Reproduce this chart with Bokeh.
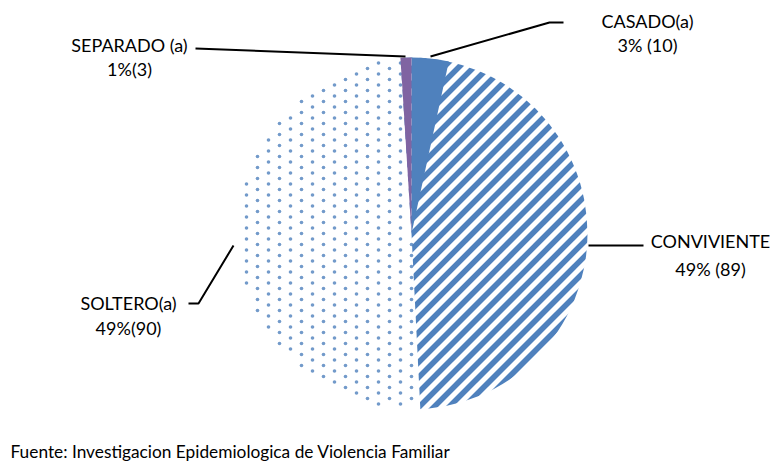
import numpy as np
from bokeh.plotting import figure
from bokeh.models import Range1d
from bokeh.core.properties import value
from bokeh.embed import file_html
from bokeh.resources import INLINE

# ---- data ----
categories = ["CASADO(a)", "CONVIVIENTE", "SOLTERO(a)", "SEPARADO (a)"]
counts = [10, 89, 90, 3]
pct_labels = ["3%", "49%", "49%", "1%"]
# slice shares as drawn in the picture (percent of the circle)
slice_share = [3.4, 45.8, 49.8, 1.0]
source_note = "Fuente:  Investigacion  Epidemiologica  de Violencia Familiar"

# ---- layout ----
W, H = 771, 462
FONT = "Lato"
p = figure(width=W, height=H, output_backend="svg", toolbar_location=None,
           x_axis_type=None, y_axis_type=None, min_border=0,
           x_range=Range1d(0, W), y_range=Range1d(-H, 0))
p.outline_line_color = None
p.xgrid.visible = False
p.ygrid.visible = False
p.background_fill_color = "white"
p.border_fill_color = "white"

cx, cy, r = 411, -233, 176
share = np.array(slice_share) / np.sum(slice_share)
cum = np.concatenate([[0], np.cumsum(share)])
starts = np.pi / 2 - 2 * np.pi * cum[:-1]
ends = np.pi / 2 - 2 * np.pi * cum[1:]

blue = "#4F81BD"
purple = "#8064A2"


def inside(x, y, i, rad):
    th = np.arctan2(y - cy, x - cx)
    d = np.mod(starts[i] - th, 2 * np.pi)
    return (np.hypot(x - cx, y - cy) <= rad) & (d <= starts[i] - ends[i])


# --- slice 1 (CONVIVIENTE): 45 deg stripes over the disc; other slices cover the rest ---
period = 15.0
t = np.arange(cy - r - 30, cy + r + 30, 0.25)
sx, sy = [], []
for c in np.arange(-900, 900, period):
    xs = t + c
    m = np.hypot(xs - cx, t - cy) <= r + 5
    if m.sum() > 2:
        tt = t[m]
        sx.append([tt.min() + c, tt.max() + c])
        sy.append([tt.min(), tt.max()])
p.multi_line(sx, sy, line_color=blue, line_width=5.5, line_cap="butt")
# trim stripe ends to the circle
p.annulus(x=cx, y=cy, inner_radius=r, outer_radius=r + 14, fill_color="white", line_color=None)

# --- slice 2 (SOLTERO): white base + staggered dots ---
p.wedge(x=cx, y=cy, radius=r + 1, start_angle=starts[2], end_angle=ends[2],
        direction="clock", line_color=None, fill_color="white")
sp = 11.0
gx, gy = np.meshgrid(np.arange(cx - r, cx + r, sp), np.arange(cy - r, cy + r + sp, sp))
col = np.round((gx - (cx - r)) / sp).astype(int)
gy = gy + (col % 2) * sp / 2
gx, gy = gx.ravel(), gy.ravel()
m = inside(gx, gy, 2, r - 1.5)
p.scatter(gx[m], gy[m], size=3.6, fill_color=blue, line_color=None, fill_alpha=0.8)

# --- solid slices ---
p.wedge(x=cx, y=cy, radius=r, start_angle=starts[0], end_angle=ends[0],
        direction="clock", line_color=None, fill_color=blue)
p.wedge(x=cx, y=cy, radius=r, start_angle=starts[3], end_angle=ends[3],
        direction="clock", line_color=None, fill_color=purple)

# leader lines
leaders = [
    ([430, 549, 563], [56, 22, 22]),
    ([588, 643], [245, 245]),
    ([233, 198, 188], [245, 303, 303]),
    ([195, 405], [48, 56]),
]
for xs, ys in leaders:
    p.line(xs, [-y for y in ys], line_color="black", line_width=2)

# labels
lab_pos = [(647, 20, 44), (710, 240, 268), (128, 302, 327), (129, 44, 68)]
sep = [" ", " ", "", ""]
for i, (lx, y1, y2) in enumerate(lab_pos):
    p.text(x=[lx], y=[-y1], text=[categories[i]], text_font=value(FONT),
           text_font_size="18px", text_align="center", text_baseline="middle", text_color="black")
    p.text(x=[lx], y=[-y2], text=[f"{pct_labels[i]}{sep[i]}({counts[i]})"], text_font=value(FONT),
           text_font_size="18px", text_align="center", text_baseline="middle", text_color="black")

p.text(x=[10], y=[-451], text=[source_note], text_font=value(FONT), text_font_size="17.3px",
       text_align="left", text_baseline="middle", text_color="black")

open("out.html", "w").write(file_html(p, INLINE))
